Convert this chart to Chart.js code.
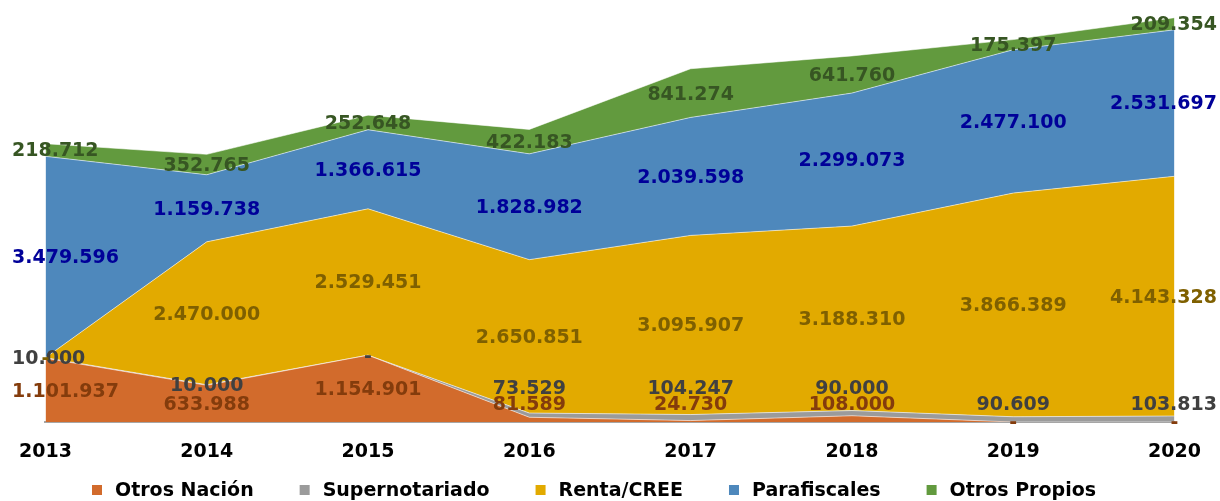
<!DOCTYPE html>
<html>
<head>
<meta charset="utf-8">
<script src="https://cdn.jsdelivr.net/npm/chart.js@4.4.1/dist/chart.umd.min.js"></script>
<style>
  html, body { margin: 0; padding: 0; background: #ffffff; }
  canvas { display: block; }
</style>
</head>
<body>
<canvas id="c" width="1220" height="501"></canvas>
<script>
// ---- data ----
const years = ['2013', '2014', '2015', '2016', '2017', '2018', '2019', '2020'];
const seriesNames = ['Otros Nación', 'Supernotariado', 'Renta/CREE', 'Parafiscales', 'Otros Propios'];
const otrosNacion    = [1101937, 633988, 1154901, 81589, 24730, 108000, 0, 0];
const supernotariado = [10000, 10000, 0, 73529, 104247, 90000, 90609, 103813];
const rentaCree      = [0, 2470000, 2529451, 2650851, 3095907, 3188310, 3866389, 4143328];
const parafiscales   = [3479596, 1159738, 1366615, 1828982, 2039598, 2299073, 2477100, 2531697];
const otrosPropios   = [218712, 352765, 252648, 422183, 841274, 641760, 175397, 209354];
const seriesValues = [otrosNacion, supernotariado, rentaCree, parafiscales, otrosPropios];

// ---- styles ----
const fillColors  = ['#D26B2C', '#9B9B9B', '#E2AA00', '#4E88BC', '#629A3E'];
const labelColors = ['#843C0C', '#404040', '#7F6000', '#000099', '#375623'];
const FONT_FAMILY = '"DejaVu Sans", Verdana, sans-serif';
const FONT_SIZE = 19;

function fmt(v) {
  if (v === 0) return '-';
  return String(v).replace(/\B(?=(\d{3})+(?!\d))/g, '.');
}

const dataLabelPlugin = {
  id: 'areaDataLabels',
  afterDatasetsDraw(chart) {
    const ctx = chart.ctx;
    const xs = chart.scales.x, ys = chart.scales.y;
    const area = chart.chartArea;
    ctx.save();
    ctx.font = 'bold ' + FONT_SIZE + 'px ' + FONT_FAMILY;
    ctx.textAlign = 'center';
    ctx.textBaseline = 'middle';
    const W = chart.width;
    for (let j = 0; j < years.length; j++) {
      let base = 0;
      let prevY = null;
      const x = xs.getPixelForValue(j);
      chart.data.datasets.forEach((ds, i) => {
        const v = ds.data[j];
        let y = ys.getPixelForValue(base + v / 2);
        if (v !== 0) {
          y = Math.min(y, area.bottom - 18);
          if (prevY !== null && prevY - y < 16) y = prevY - 16;
          prevY = y;
        }
        base += v;
        const text = fmt(v);
        const w = ctx.measureText(text).width;
        let cx = Math.max(x, 12 + w / 2);
        cx = Math.min(cx, W - 3 - w / 2);
        ctx.fillStyle = labelColors[i];
        ctx.fillText(text, cx, y + 1.5);
      });
    }
    ctx.restore();
  }
};

const legendPlugin = {
  id: 'bottomLegend',
  afterDraw(chart) {
    const ctx = chart.ctx;
    ctx.save();
    ctx.font = 'bold ' + FONT_SIZE + 'px ' + FONT_FAMILY;
    ctx.textBaseline = 'middle';
    ctx.textAlign = 'left';
    const box = 10, boxGap = 13, itemGap = 46;
    const items = chart.data.datasets.map(ds => ({
      text: ds.label, color: ds.backgroundColor, w: ctx.measureText(ds.label).width
    }));
    let total = 0;
    items.forEach((it, k) => { total += box + boxGap + it.w + (k ? itemGap : 0); });
    let x = 594 - total / 2;
    const yc = 490;
    items.forEach(it => {
      ctx.fillStyle = it.color;
      ctx.fillRect(x, yc - box / 2, box, box);
      ctx.fillStyle = '#000000';
      ctx.fillText(it.text, x + box + boxGap, yc + 1);
      x += box + boxGap + it.w + itemGap;
    });
    ctx.restore();
  }
};

const datasets = seriesNames.map((name, i) => ({
  label: name,
  data: seriesValues[i],
  backgroundColor: fillColors[i],
  borderColor: 'rgba(255,255,255,0.55)',
  borderWidth: 1,
  fill: i === 0 ? 'origin' : '-1',
  pointRadius: 0,
  pointHoverRadius: 0,
  tension: 0
}));

new Chart(document.getElementById('c'), {
  type: 'line',
  data: { labels: years, datasets: datasets },
  options: {
    responsive: false,
    animation: false,
    devicePixelRatio: 1,
    layout: { padding: { top: 17, left: 41, right: 38, bottom: 0 } },
    plugins: {
      legend: { display: false },
      tooltip: { enabled: false }
    },
    scales: {
      x: {
        offset: false,
        grid: { display: false, drawTicks: false },
        border: { display: true, color: '#A6A6A6', width: 2 },
        ticks: {
          font: { family: FONT_FAMILY, weight: 'bold', size: FONT_SIZE },
          color: '#000000',
          padding: 19,
          maxRotation: 0,
          autoSkip: false
        },
        afterFit(scale) { scale.height = 79; }
      },
      y: {
        stacked: true,
        display: false,
        min: 0,
        max: 7000000
      }
    }
  },
  plugins: [dataLabelPlugin, legendPlugin]
});
</script>
</body>
</html>
